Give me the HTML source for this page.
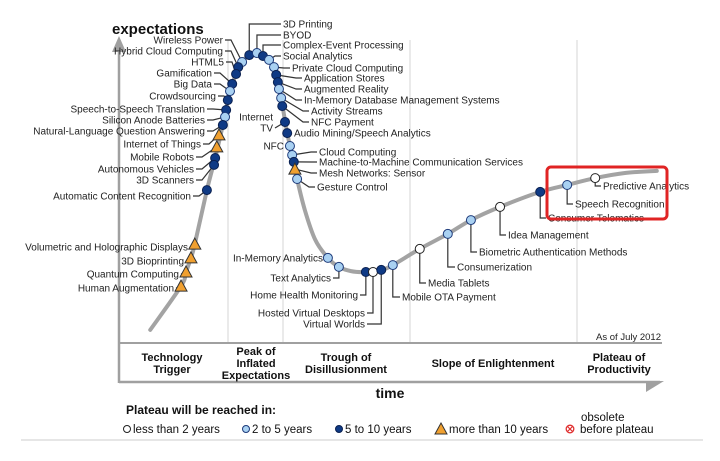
<!DOCTYPE html>
<html><head><meta charset="utf-8"><style>
html,body{margin:0;padding:0;background:#fff;}
svg{display:block;font-family:"Liberation Sans",Arial,sans-serif;}
</style></head><body>
<svg id="chart" width="720" height="461" viewBox="0 0 720 461">
<g id="frame">
  <line x1="228" y1="40" x2="228" y2="343" stroke="#d4d4d4" stroke-width="1"/>
  <line x1="283" y1="40" x2="283" y2="343" stroke="#d4d4d4" stroke-width="1"/>
  <line x1="410" y1="40" x2="410" y2="343" stroke="#d4d4d4" stroke-width="1"/>
  <line x1="577" y1="40" x2="577" y2="343" stroke="#d4d4d4" stroke-width="1"/>
  <line x1="119" y1="48" x2="119" y2="383" stroke="#a0a0a0" stroke-width="2.5"/>
  <polygon points="112,52 119,36 126,52" fill="#a0a0a0"/>
  <line x1="119" y1="343" x2="662" y2="343" stroke="#a0a0a0" stroke-width="2"/>
  <line x1="119" y1="382" x2="660" y2="382" stroke="#a0a0a0" stroke-width="2.5"/>
  <polygon points="646,392 664,381 646,381" fill="#a0a0a0"/>
  <text x="112" y="34" font-size="15" font-weight="bold" fill="#111">expectations</text>
  <text x="390" y="398" font-size="14" font-weight="bold" fill="#111" text-anchor="middle">time</text>
  <text x="661" y="340" font-size="9.5" fill="#222" text-anchor="end">As of July 2012</text>
  <g font-size="11" font-weight="bold" fill="#111" text-anchor="middle">
    <text x="172" y="361"><tspan x="172">Technology</tspan><tspan x="172" dy="12">Trigger</tspan></text>
    <text x="256" y="355"><tspan x="256">Peak of</tspan><tspan x="256" dy="12">Inflated</tspan><tspan x="256" dy="12">Expectations</tspan></text>
    <text x="346" y="361"><tspan x="346">Trough of</tspan><tspan x="346" dy="12">Disillusionment</tspan></text>
    <text x="493" y="367">Slope of Enlightenment</text>
    <text x="619" y="361"><tspan x="619">Plateau of</tspan><tspan x="619" dy="12">Productivity</tspan></text>
  </g>
</g>
<g id="curve-layer"></g>
<g id="leader-layer"></g>
<g id="mark-layer"></g>
<g id="label-layer" font-size="10" fill="#222"></g>
<rect x="547" y="167" width="120" height="52" rx="4" fill="none" stroke="#e02424" stroke-width="3"/>
<g id="legend" font-size="11.5" fill="#111">
  <text x="126" y="414" font-weight="bold" font-size="12">Plateau will be reached in:</text>
  <g><circle cx="127" cy="429" r="3.5" fill="#fff" stroke="#222" stroke-width="1"/><text x="133" y="433">less than 2 years</text></g>
  <g><circle cx="246" cy="429" r="3.5" fill="#a9d1f2" stroke="#1d3a7a" stroke-width="1"/><text x="252" y="433">2 to 5 years</text></g>
  <g><circle cx="339" cy="429" r="3.5" fill="#0f3a85" stroke="#0a2050" stroke-width="1"/><text x="345" y="433">5 to 10 years</text></g>
  <g><polygon points="441,423 447,434 435,434" fill="#f0a030" stroke="#333" stroke-width="1"/><text x="449" y="433">more than 10 years</text></g>
  <g><circle cx="570" cy="429" r="3.8" fill="#fff" stroke="#e03030" stroke-width="1.3"/><line x1="567.5" y1="426.5" x2="572.5" y2="431.5" stroke="#e03030" stroke-width="1.2"/><line x1="572.5" y1="426.5" x2="567.5" y2="431.5" stroke="#e03030" stroke-width="1.2"/><text x="580" y="433">before plateau</text><text x="581" y="421">obsolete</text></g>
</g>
<line x1="21" y1="440" x2="703" y2="440" stroke="#e6e6e6" stroke-width="2"/>
</svg>
<script>
// curve knots (time 0-100, expectation 0-100)
const curveT = [5.5,11.1,12,12.9,13.6,15.8,17.3,18.7,20,21.1,22.2,23.5,24.9,26,27.1,28.4,29.3,30.4,31.6,32.2,33.6,35.5,37.8,39.8,42,44.7,47.5,49.6,54.5,59.6,63.8,69.1,76.4,81.3,86.4,91.8,97.6];
const curveE = [6.7,21.3,26,30.7,35.3,53.3,64,75,86.3,92,96,98.3,99,98,96.7,91.7,84,72.3,62.7,57,46.7,36.7,30.7,27.7,26.3,26,26.7,28.3,33.7,38.7,43.3,47.7,52.7,55,57.3,59,59.7];
// technologies
const techNames = ["Wireless Power","Hybrid Cloud Computing","HTML5","Gamification","Big Data","Crowdsourcing","Speech-to-Speech Translation","Silicon Anode Batteries","Natural-Language Question Answering","Internet of Things","Mobile Robots","Autonomous Vehicles","3D Scanners","Automatic Content Recognition","Volumetric and Holographic Displays","3D Bioprinting","Quantum Computing","Human Augmentation","3D Printing","BYOD","Complex-Event Processing","Social Analytics","Private Cloud Computing","Application Stores","Augmented Reality","In-Memory Database Management Systems","Activity Streams","NFC Payment","Internet|TV","Audio Mining/Speech Analytics","NFC","Cloud Computing","Machine-to-Machine Communication Services","Mesh Networks: Sensor","Gesture Control","In-Memory Analytics","Text Analytics","Home Health Monitoring","Hosted Virtual Desktops","Virtual Worlds","Mobile OTA Payment","Media Tablets","Consumerization","Biometric Authentication Methods","Idea Management","Consumer Telematics","Speech Recognition","Predictive Analytics"];
const techTime = [22.2,21.5,21.1,20.4,20,19.6,19.3,19.1,18.7,18,17.6,17.3,17.1,15.8,13.6,12.9,12,11.1,23.5,24.9,26,27.1,28,28.4,28.7,28.9,29.3,29.5,30,30.4,30.9,31.3,31.6,31.8,32.2,37.8,39.8,44.7,46,47.5,49.6,54.5,59.6,63.8,69.1,76.4,81.3,86.4];
const techExpect = [96,94.3,92,88.7,86.3,83.3,80,77.7,75,71.7,67.7,64,61.7,53.3,35.3,30.7,26,21.3,98.3,99,98,96.7,94.3,91.7,89.3,87,84,81.3,76,72.3,68,65,62.7,60.3,57,30.7,27.7,26,26,26.7,28.3,33.7,38.7,43.3,47.7,52.7,55,57.3];
// plateau horizon: 0 = <2y, 1 = 2-5y, 2 = 5-10y, 3 = >10y
const techHorizon = [1,2,2,2,1,2,2,1,2,3,3,2,2,2,3,3,3,3,2,1,2,1,1,2,2,1,1,2,2,2,1,1,2,3,1,1,1,2,0,2,1,0,1,1,0,2,1,0];

// label layout (x, y, anchor, leader kind) — presentation only
const labelLayout = [
 [223,40,"end","d"],[223,51,"end","d"],[224,62,"end","d"],[212,73,"end","d"],[212,84,"end","d"],[216,96,"end","d"],[205,109,"end","d"],[205,120,"end","d"],[205,131,"end","d"],[201,144,"end","d"],[194,157,"end","d"],[194,169,"end","d"],[194,180,"end","d"],[191,196,"end","d"],
 [188,247,"end","n"],[184,261,"end","n"],[179,274,"end","n"],[174,288,"end","n"],
 [283,24,"start","v"],[283,35,"start","v"],[283,45,"start","v"],[283,56,"start","d"],[292,68,"start","d"],[304,78,"start","d"],[304,89,"start","d"],[304,100,"start","d"],[311,111,"start","d"],[311,122,"start","d"],
 [273,122,"end","tv"],[294,133,"start","n"],[284,146,"end","n"],[319,152,"start","d"],[319,162,"start","d"],[319,173,"start","d"],[317,187,"start","d"],
 [323,258,"end","n"],[331,278,"end","vl"],[358,295,"end","vl"],[365,313,"end","vl"],[365,324,"end","vl"],
 [402,297,"start","v"],[428,283,"start","v"],[457,267,"start","v"],[479,252,"start","v"],[508,235,"start","v"],[548,218,"start","v"],[575,204,"start","v"],[603,186,"start","v"]
];

const xScale = t => 120 + t * 5.5;
const yScale = e => 350 - e * 3;
const NS = "http://www.w3.org/2000/svg";
const fills = ["#ffffff","#a9d1f2","#0f3a85","#f0a030"];
const strokes = ["#222","#1d3a7a","#0a2050","#333"];

// curve (Catmull-Rom)
const pts = curveT.map((t,i)=>[xScale(t), yScale(curveE[i])]);
let d = "M" + pts[0][0] + "," + pts[0][1];
for (let i=0;i<pts.length-1;i++){
  const p0=pts[Math.max(0,i-1)], p1=pts[i], p2=pts[i+1], p3=pts[Math.min(pts.length-1,i+2)];
  const c1=[p1[0]+(p2[0]-p0[0])/6, p1[1]+(p2[1]-p0[1])/6];
  const c2=[p2[0]-(p3[0]-p1[0])/6, p2[1]-(p3[1]-p1[1])/6];
  d += " C"+c1[0].toFixed(1)+","+c1[1].toFixed(1)+" "+c2[0].toFixed(1)+","+c2[1].toFixed(1)+" "+p2[0].toFixed(1)+","+p2[1].toFixed(1);
}
const curve = document.createElementNS(NS,"path");
curve.setAttribute("d", d);
curve.setAttribute("fill","none");
curve.setAttribute("stroke","#a3a3a3");
curve.setAttribute("stroke-width","4");
curve.setAttribute("stroke-linecap","round");


document.getElementById("curve-layer").appendChild(curve);

const leaderLayer = document.getElementById("leader-layer");
const markLayer = document.getElementById("mark-layer");
const labelLayer = document.getElementById("label-layer");

techNames.forEach((name,i)=>{
  const cx = xScale(techTime[i]), cy = yScale(techExpect[i]);
  const [lx,ly,anchor,kind] = labelLayout[i];
  const slug = name.toLowerCase().replace(/[^a-z0-9]+/g,"-").replace(/^-|-$/g,"");
  // leader
  let lp;
  if (kind==="d") lp = anchor==="end" ? [[lx+2,ly],[lx+8,ly],[cx,cy]] : [[lx-2,ly],[lx-8,ly],[cx,cy]];
  else if (kind==="v") lp = [[cx,cy],[cx,ly],[lx-2,ly]];
  else if (kind==="vl") lp = [[cx,cy],[cx,ly],[lx+2,ly]];
  else if (kind==="tv") lp = [[lx+2,ly+6],[cx,cy]];
  else lp = anchor==="end" ? [[lx+2,ly],[cx,cy]] : [[lx-2,ly],[cx,cy]];
  const leader = document.createElementNS(NS,"polyline");
  leader.setAttribute("points", lp.map(p=>p.join(",")).join(" "));
  leader.setAttribute("fill","none");
  leader.setAttribute("stroke","#333");
  leader.setAttribute("stroke-width","1.2");
  
  
  leaderLayer.appendChild(leader);
  // marker
  const h = techHorizon[i];
  let m;
  if (h===3){
    m = document.createElementNS(NS,"polygon");
    m.setAttribute("points", cx+","+(cy-6)+" "+(cx+6)+","+(cy+5)+" "+(cx-6)+","+(cy+5));
  } else {
    m = document.createElementNS(NS,"circle");
    m.setAttribute("cx",cx); m.setAttribute("cy",cy); m.setAttribute("r","4.5");
  }
  m.setAttribute("fill", fills[h]);
  m.setAttribute("stroke", strokes[h]);
  m.setAttribute("stroke-width","1");
  
  
  markLayer.appendChild(m);
  // label
  const tx = document.createElementNS(NS,"text");
  tx.setAttribute("text-anchor", anchor);
  if (name.indexOf("|")>=0){
    const parts = name.split("|");
    tx.setAttribute("x", lx); tx.setAttribute("y", ly-1.5);
    parts.forEach((p,k)=>{
      const ts = document.createElementNS(NS,"tspan");
      ts.setAttribute("x", lx);
      ts.setAttribute("dy", k===0 ? "0" : "11");
      ts.textContent = p;
      tx.appendChild(ts);
    });
  } else {
    tx.setAttribute("x", lx); tx.setAttribute("y", ly+3.5);
    tx.textContent = name;
  }
  
  
  labelLayer.appendChild(tx);
});
</script>
</body></html>
